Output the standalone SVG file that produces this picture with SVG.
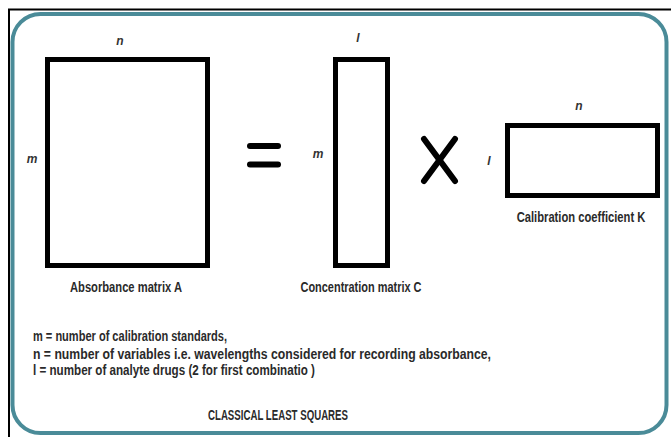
<svg xmlns="http://www.w3.org/2000/svg" width="671" height="437" viewBox="0 0 671 437">
<style>
.mat{fill:#fff;stroke:#000;stroke-width:5}
.var{font-family:"Liberation Sans",Arial,sans-serif;font-style:italic;font-weight:bold;font-size:12px;fill:#333}
.cap{font-family:"Liberation Sans",Arial,sans-serif;font-weight:bold;font-size:14px;fill:#2a2a2a}
.op{stroke:#000;stroke-width:6;stroke-linecap:round;fill:none}
</style>
<rect x="0" y="0" width="671" height="437" fill="#fff"/>
<path d="M9,437 V9.5 H671" fill="none" stroke="#000" stroke-width="2"/>
<rect x="12.5" y="14" width="654" height="419" rx="28" fill="#fff" stroke="#4a8b98" stroke-width="4"/>
<g id="matrixA">
<rect class="mat" x="47.5" y="59.5" width="160" height="206"/>
<text class="var" x="120" y="45" text-anchor="middle">n</text>
<text class="var" x="32" y="163" text-anchor="middle">m</text>
<text class="cap" x="126" y="292" text-anchor="middle" textLength="112" lengthAdjust="spacingAndGlyphs">Absorbance matrix A</text>
</g>
<g id="equals">
<line class="op" x1="250" y1="146" x2="278" y2="146"/>
<line class="op" x1="250" y1="164.5" x2="278" y2="164.5"/>
</g>
<g id="matrixC">
<rect class="mat" x="335.5" y="59.5" width="52" height="206"/>
<text class="var" x="358" y="42" text-anchor="middle">l</text>
<text class="var" x="318" y="158" text-anchor="middle">m</text>
<text class="cap" x="361" y="292" text-anchor="middle" textLength="121" lengthAdjust="spacingAndGlyphs">Concentration matrix C</text>
</g>
<g id="times">
<line class="op" x1="424" y1="139" x2="455" y2="181" stroke-width="5"/>
<line class="op" x1="455" y1="139" x2="424" y2="181" stroke-width="5"/>
</g>
<g id="matrixK">
<rect class="mat" x="507.5" y="125.5" width="150" height="70"/>
<text class="var" x="579" y="110" text-anchor="middle">n</text>
<text class="var" x="489" y="165" text-anchor="middle">l</text>
<text class="cap" transform="translate(581,222) scale(0.8,1)" x="0" y="0" text-anchor="middle">Calibration coefficient K</text>
</g>
<g id="legend">
<text class="cap" x="33" y="341" textLength="194" lengthAdjust="spacingAndGlyphs">m = number of calibration standards,</text>
<text class="cap" x="33" y="359" textLength="458" lengthAdjust="spacingAndGlyphs">n = number of variables i.e. wavelengths considered for recording absorbance,</text>
<text class="cap" x="33" y="375" textLength="282" lengthAdjust="spacingAndGlyphs">l = number of analyte drugs (2 for first combinatio )</text>
</g>
<g id="title">
<text class="cap" x="278" y="420" text-anchor="middle" textLength="140" lengthAdjust="spacingAndGlyphs">CLASSICAL LEAST SQUARES</text>
</g>
<g id="connectors"/>
</svg>
